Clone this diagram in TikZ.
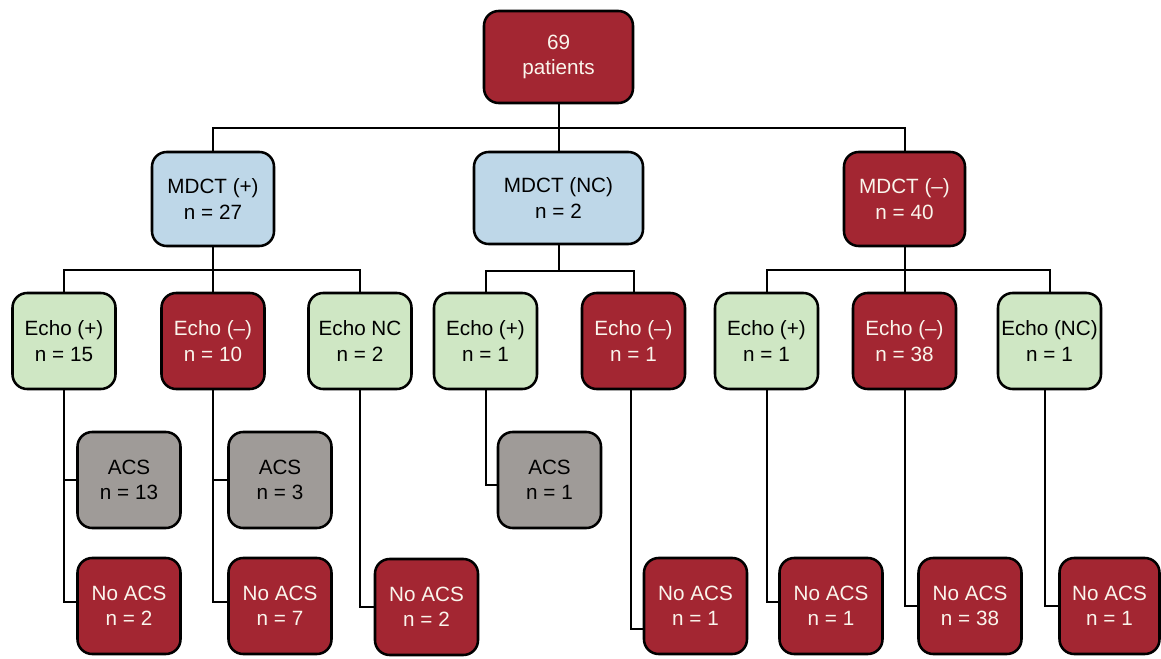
\documentclass[tikz,border=0pt]{standalone}
\usepackage{fontspec}
\setmainfont{Liberation Sans}
\usetikzlibrary{calc}
\definecolor{cred}{RGB}{163,38,50}
\definecolor{cblue}{RGB}{190,215,232}
\definecolor{cgreen}{RGB}{207,231,196}
\definecolor{cgray}{RGB}{159,155,152}
\definecolor{ctext}{RGB}{250,245,236}
\begin{document}
\begin{tikzpicture}[x=0.75pt,y=-0.75pt,
  box/.style={draw=black,line width=1.9pt,rounded corners=11pt,inner sep=0pt,align=center,
    font=\fontsize{15.5}{19}\selectfont,minimum width=77.25pt,minimum height=72pt},
  redbox/.style={box,fill=cred,text=ctext},
  bluebox/.style={box,fill=cblue,text=black},
  greenbox/.style={box,fill=cgreen,text=black},
  graybox/.style={box,fill=cgray,text=black},
  link/.style={line width=1.5pt}]
\useasboundingbox (0,0) rectangle (1161,659);
% level 1
\node[redbox,minimum width=111.75pt,minimum height=69pt] (top) at (558.5,57) {69\\patients};
% level 2
\node[bluebox,minimum width=91.5pt,minimum height=70.5pt] (m1) at (213,199) {MDCT (+)\\n = 27};
\node[bluebox,minimum width=126.75pt,minimum height=69pt] (m2) at (558.5,198) {MDCT (NC)\\n = 2};
\node[redbox,minimum width=90.75pt,minimum height=70.5pt] (m3) at (904.5,199) {MDCT (–)\\n = 40};
% level 3
\node[greenbox] (e1) at (64,341) {Echo (+)\\n = 15};
\node[redbox] (e2) at (213,341) {Echo (–)\\n = 10};
\node[greenbox] (e3) at (360,341) {Echo NC\\n = 2};
\node[greenbox] (e4) at (485.5,341) {Echo (+)\\n = 1};
\node[redbox] (e5) at (633.5,341) {Echo (–)\\n = 1};
\node[greenbox] (e6) at (766.5,341) {Echo (+)\\n = 1};
\node[redbox] (e7) at (904.5,341) {Echo (–)\\n = 38};
\node[greenbox] (e8) at (1049.5,341) {Echo (NC)\\n = 1};
% level 4
\node[graybox] (a1) at (129,480) {ACS\\n = 13};
\node[graybox] (a2) at (280,480) {ACS\\n = 3};
\node[graybox] (a3) at (549.5,480) {ACS\\n = 1};
% level 5
\node[redbox] (n1) at (129,606) {No ACS\\n = 2};
\node[redbox] (n2) at (280,606) {No ACS\\n = 7};
\node[redbox] (n3) at (426.5,607) {No ACS\\n = 2};
\node[redbox] (n4) at (695.5,606) {No ACS\\n = 1};
\node[redbox] (n5) at (831,606) {No ACS\\n = 1};
\node[redbox] (n6) at (970,606) {No ACS\\n = 38};
\node[redbox,minimum width=75pt] (n7) at (1109.5,606) {No ACS\\n = 1};
% bus coordinates
\coordinate (b0) at (0,128);
\coordinate (b1) at (0,270);
\coordinate (b2) at (0,271);
% connectors level 1-2
\draw[link] (top.south) -- (m2.north);
\draw[link] (m1.north) -- (m1.north |- b0) -- (m3.north |- b0) -- (m3.north);
% connectors level 2-3
\draw[link] (m1.south) -- (m1.south |- b1);
\draw[link] (e1.north) -- (e1.north |- b1) -- (e3.north |- b1) -- (e3.north);
\draw[link] (e2.north) -- (e2.north |- b1);
\draw[link] (m2.south) -- (m2.south |- b2);
\draw[link] (e4.north) -- (e4.north |- b2) -- (e5.north |- b2) -- (e5.north);
\draw[link] (m3.south) -- (m3.south |- b1);
\draw[link] (e6.north) -- (e6.north |- b1) -- (e8.north |- b1) -- (e8.north);
\draw[link] (e7.north) -- (e7.north |- b1);
% connectors level 3-4-5
\draw[link] (e1.south) |- ($(n1.west)+(0,-4)$);
\draw[link] (e1.south |- a1.west) -- (a1.west);
\draw[link] (e2.south) |- ($(n2.west)+(0,-4)$);
\draw[link] (e2.south |- a2.west) -- (a2.west);
\draw[link] (e3.south) |- (n3.west);
\draw[link] (e4.south) |- ($(a3.west)+(0,5)$);
\draw[link] ([xshift=-2.25pt]e5.south) |- ($(n4.west)+(0,23)$);
\draw[link] (e6.south) |- ($(n5.west)+(0,-4)$);
\draw[link] (e7.south) |- (n6.west);
\draw[link] ([xshift=-3.5pt]e8.south) |- (n7.west);
\end{tikzpicture}
\end{document}
